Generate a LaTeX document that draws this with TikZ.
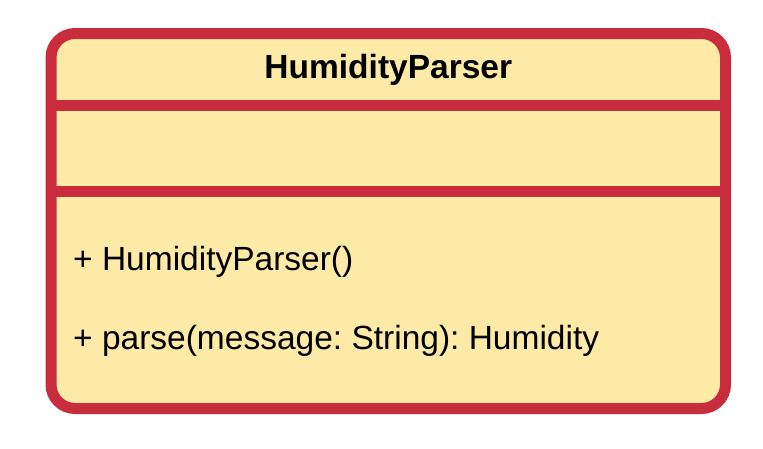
\documentclass[tikz,border=0pt]{standalone}
\usepackage{fontspec}
\setmainfont{Liberation Sans}
\definecolor{umlred}{RGB}{201,44,60}
\definecolor{umlfill}{RGB}{254,234,167}
\tikzset{
  classbox/.style={draw=umlred, fill=umlfill, line width=11pt, rounded corners=24pt},
  sepline/.style={draw=umlred, line width=11pt},
  titletext/.style={inner sep=0pt, anchor=base, font=\fontsize{33.5}{38}\selectfont\bfseries},
  membertext/.style={inner sep=0pt, anchor=base west, font=\fontsize{33.5}{38}\selectfont}
}
\frenchspacing
\begin{document}
\begin{tikzpicture}[x=1pt,y=-1pt]
\useasboundingbox (0,0) rectangle (763,448);
\coordinate (tl) at (51,33.5);
\coordinate (br) at (725.5,408.5);
\path[classbox] (tl) rectangle (br);
\coordinate (s1l) at (51,105.3);
\coordinate (s1r) at (725.5,105.3);
\coordinate (s2l) at (51,191);
\coordinate (s2r) at (725.5,191);
\draw[sepline] (s1l) -- (s1r);
\draw[sepline] (s2l) -- (s2r);
\node[titletext] (title) at (388.3,78.6) {HumidityParser};
\node[membertext] (m1) at (73,270) {+ HumidityParser()};
\node[membertext] (m2) at (73,349) {+ parse(message: String): Humidity};
\end{tikzpicture}
\end{document}
